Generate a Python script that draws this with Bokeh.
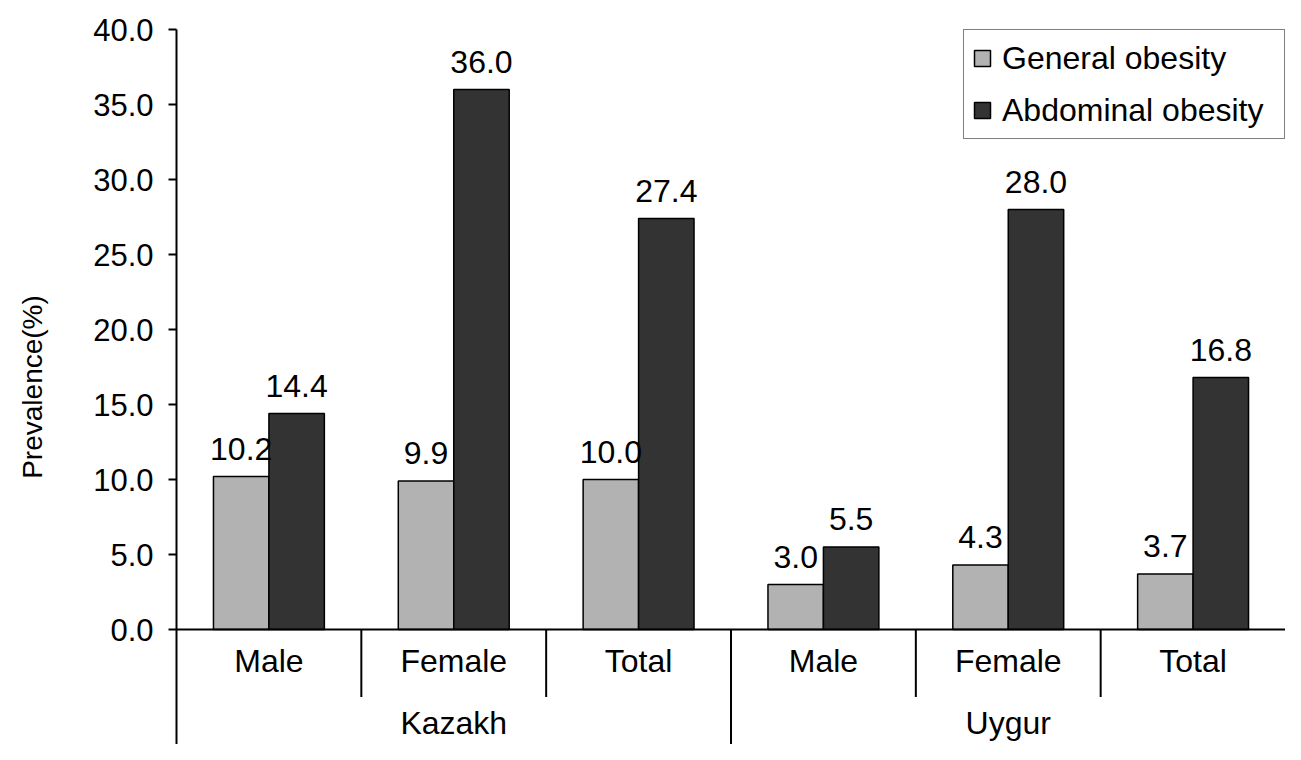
from bokeh.plotting import figure
from bokeh.models import (FactorRange, Range1d, FixedTicker, PrintfTickFormatter,
                          Span, ColumnDataSource)
from bokeh.transform import dodge
from bokeh.core.properties import value
from bokeh.embed import file_html
from bokeh.resources import INLINE

groups = ["Kazakh", "Uygur"]
subgroups = ["Male", "Female", "Total"]
general = [10.2, 9.9, 10.0, 3.0, 4.3, 3.7]
abdominal = [14.4, 36.0, 27.4, 5.5, 28.0, 16.8]
y_ticks = [0, 5, 10, 15, 20, 25, 30, 35, 40]
series_names = ["General obesity", "Abdominal obesity"]

FONT = value("Liberation Sans")
factors = [(g, s) for g in groups for s in subgroups]

src = ColumnDataSource(dict(
    x=factors,
    general=general,
    abdominal=abdominal,
    glab=["%.1f" % v for v in general],
    alab=["%.1f" % v for v in abdominal],
))

W, H = 1285, 744
TOP, LEFT = 29, 176
px_per_unit = 15.0
y_bottom = -(H - TOP - 40 * px_per_unit) / px_per_unit

p = figure(width=W, height=H, output_backend="svg", toolbar_location=None,
           x_range=FactorRange(*factors, factor_padding=0, group_padding=0, range_padding=0),
           y_range=Range1d(y_bottom, 40), x_axis_location=None,
           min_border_left=LEFT, min_border_right=0, min_border_top=TOP, min_border_bottom=0)
p.outline_line_color = None
p.xgrid.visible = False
p.ygrid.visible = False

# bars
p.vbar(x=dodge('x', -0.15, range=p.x_range), top='general', width=0.3, source=src,
       fill_color="#b2b2b2", line_color="black", line_width=1.5, legend_label=series_names[0])
p.vbar(x=dodge('x', 0.15, range=p.x_range), top='abdominal', width=0.3, source=src,
       fill_color="#333333", line_color="black", line_width=1.5, legend_label=series_names[1])

# value labels
p.text(x=dodge('x', -0.15, range=p.x_range), y='general', text='glab', source=src,
       text_align="center", text_baseline="alphabetic", y_offset=-28,
       text_font=FONT, text_font_size="32px", text_color="black")
p.text(x=dodge('x', 0.15, range=p.x_range), y='abdominal', text='alab', source=src,
       text_align="center", text_baseline="alphabetic", y_offset=-28,
       text_font=FONT, text_font_size="32px", text_color="black")

# baseline
p.add_layout(Span(location=0, dimension="width", line_color="black", line_width=2))

# category axis drawn below zero
p.text(x=factors, y=[-2.07] * len(factors), text=[f[1] for f in factors],
       text_align="center", text_baseline="middle",
       text_font=FONT, text_font_size="32px", text_color="black")
p.text(x=groups, y=[-6.2] * len(groups), text=groups,
       text_align="center", text_baseline="middle",
       text_font=FONT, text_font_size="32px", text_color="black")

sub_sep = [(g, s, -0.5) for g in groups for s in subgroups[1:]]
p.segment(x0=sub_sep, y0=[0] * len(sub_sep), x1=sub_sep, y1=[-4.5] * len(sub_sep),
          line_color="black", line_width=2)
grp_sep = [(g, subgroups[0], -0.5) for g in groups[1:]]
p.segment(x0=grp_sep, y0=[0] * len(grp_sep), x1=grp_sep, y1=[y_bottom] * len(grp_sep),
          line_color="black", line_width=2)

# y axis
ax = p.yaxis[0]
ax.ticker = FixedTicker(ticks=y_ticks)
ax.formatter = PrintfTickFormatter(format="%.1f")
ax.minor_tick_line_color = None
ax.major_tick_in = 0
ax.major_tick_out = 8
ax.major_tick_line_width = 2
ax.axis_line_width = 2
ax.axis_line_color = "black"
ax.major_tick_line_color = "black"
ax.major_label_standoff = 15
ax.major_label_text_font = "Liberation Sans"
ax.major_label_text_font_size = "31px"
ax.major_label_text_color = "black"
ax.axis_label = "Prevalence(%)"
ax.axis_label_text_font = "Liberation Sans"
ax.axis_label_text_font_size = "28px"
ax.axis_label_text_font_style = "normal"
ax.axis_label_text_color = "black"
ax.axis_label_standoff = 42

# legend
lg = p.legend[0]
lg.location = "top_right"
lg.margin = 0
lg.border_line_color = "black"
lg.border_line_width = 1.5
lg.background_fill_color = "white"
lg.background_fill_alpha = 1
lg.label_text_font = "Liberation Sans"
lg.label_text_font_size = "32px"
lg.label_text_color = "black"
lg.glyph_width = 20
lg.glyph_height = 20
lg.label_height = 40
lg.label_width = 274
lg.spacing = 12
lg.padding = 8
lg.label_standoff = 10

open("out.html", "w").write(file_html(p, INLINE))
